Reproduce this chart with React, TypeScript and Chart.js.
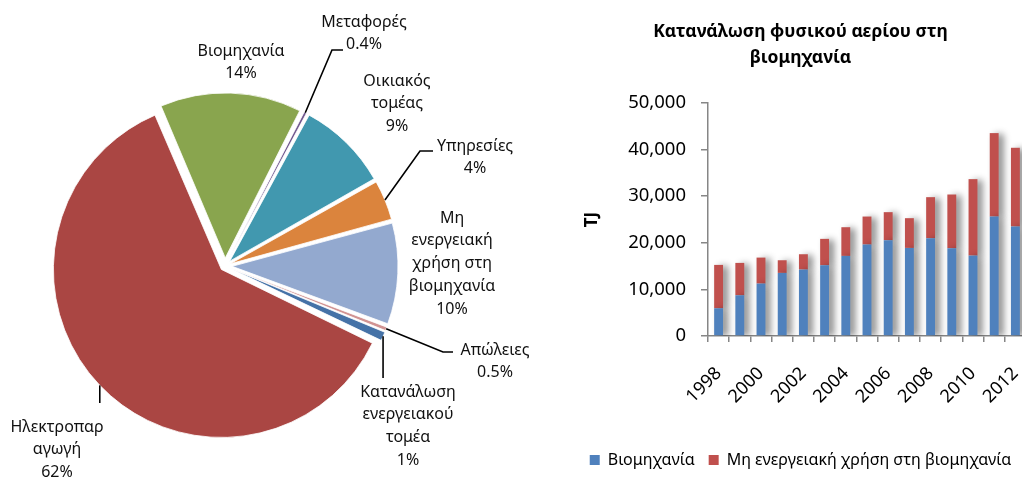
import React, { useEffect, useRef } from 'react';
import { Chart, registerables } from 'chart.js';

Chart.register(...registerables);

const FONT = '"Noto Sans", "DejaVu Sans", sans-serif';

// ---------- Pie data ----------
const pieCategories = [
  'Κατανάλωση ενεργειακού τομέα',
  'Ηλεκτροπαραγωγή',
  'Βιομηχανία',
  'Μεταφορές',
  'Οικιακός τομέας',
  'Υπηρεσίες',
  'Μη ενεργειακή χρήση στη βιομηχανία',
  'Απώλειες',
];
const pieValues = [1, 62, 14, 0.4, 9, 4, 10, 0.5];
const piePercentLabels = ['1%', '62%', '14%', '0.4%', '9%', '4%', '10%', '0.5%'];
const pieLabelLines = [
  ['Κατανάλωση', 'ενεργειακού', 'τομέα'],
  ['Ηλεκτροπαρ', 'αγωγή'],
  ['Βιομηχανία'],
  ['Μεταφορές'],
  ['Οικιακός', 'τομέας'],
  ['Υπηρεσίες'],
  ['Μη', 'ενεργειακή', 'χρήση στη', 'βιομηχανία'],
  ['Απώλειες'],
];
const pieColors = ['#4572A7', '#AA4643', '#89A54E', '#71588F', '#4198AF', '#DB843D', '#93A9CF', '#D19392'];

// ---------- Bar data ----------
const years = ['1998', '1999', '2000', '2001', '2002', '2003', '2004', '2005', '2006', '2007', '2008', '2009', '2010', '2011', '2012'];
const industry = [5950, 8740, 11250, 13540, 14260, 15190, 17190, 19630, 20560, 18910, 20990, 18840, 17260, 25640, 23500];
const nonEnergyUse = [9310, 6950, 5580, 2720, 3290, 5660, 6160, 6010, 6020, 6380, 8810, 11530, 16410, 17910, 16900];
const seriesNames = ['Βιομηχανία', 'Μη ενεργειακή χρήση στη βιομηχανία'];
const barTitle = ['Κατανάλωση φυσικού αερίου στη', 'βιομηχανία'];
const yAxisTitle = 'TJ';

const EXPLODE = 10; // px that each slice is pulled out
const pieTotal = pieValues.reduce((a, b) => a + b, 0);

// label layout for pie (relative to pie centre, px)
const pieLabelLayout: any[] = [
  { x: 183, y: 126, leader: { v: 112 } },
  { x: -168, y: 161, leader: { v: 137 } },
  { x: 16, y: -215 },
  { x: 139, y: -244, leader: { pts: [[107, -216], [118, -216]] } },
  { x: 172, y: -185 },
  { x: 250, y: -120, leader: { pts: [[195, -115], [208, -115]] } },
  { x: 227, y: -48 },
  { x: 270, y: 84, leader: { pts: [[218, 86], [228, 86]] } },
];

const pieLabelPlugin = {
  id: 'pieLabels',
  afterDraw(chart: any) {
    const ctx = chart.ctx;
    const meta = chart.getDatasetMeta(0);
    ctx.save();
    meta.data.forEach((arc: any, i: number) => {
      const p = arc.getProps(['x', 'y', 'startAngle', 'endAngle', 'outerRadius'], true);
      const mid = (p.startAngle + p.endAngle) / 2;
      const ax = p.x + Math.cos(mid) * (p.outerRadius + EXPLODE);
      const ay = p.y + Math.sin(mid) * (p.outerRadius + EXPLODE);
      const lay = pieLabelLayout[i];
      if (lay.leader) {
        ctx.beginPath();
        ctx.strokeStyle = '#000';
        ctx.lineWidth = 1.6;
        ctx.moveTo(ax, ay);
        if (lay.leader.v !== undefined) {
          ctx.lineTo(ax, p.y + lay.leader.v);
        } else {
          lay.leader.pts.forEach((pt: number[]) => ctx.lineTo(p.x + pt[0], p.y + pt[1]));
        }
        ctx.stroke();
      }
      const lines = [...pieLabelLines[i], piePercentLabels[i]];
      ctx.font = `16px ${FONT}`;
      ctx.fillStyle = '#111';
      ctx.textAlign = 'center';
      ctx.textBaseline = 'middle';
      lines.forEach((t, k) => {
        ctx.fillText(t, p.x + lay.x, p.y + lay.y + k * 22.8);
      });
    });
    ctx.restore();
  },
};

const barShadowPlugin = {
  id: 'barShadow',
  beforeDatasetsDraw(chart: any) {
    const ctx = chart.ctx;
    ctx.save();
    ctx.shadowColor = 'rgba(0,0,0,0.45)';
    ctx.shadowBlur = 7;
    ctx.shadowOffsetX = 5;
    ctx.shadowOffsetY = 1;
  },
  afterDatasetsDraw(chart: any) {
    chart.ctx.restore();
  },
};

export default function App() {
  const pieRef = useRef<HTMLCanvasElement>(null);
  const barRef = useRef<HTMLCanvasElement>(null);

  useEffect(() => {
    const pie = new Chart(pieRef.current as HTMLCanvasElement, {
      type: 'pie',
      data: {
        labels: pieCategories,
        datasets: [
          {
            data: pieValues,
            backgroundColor: pieColors,
            borderColor: '#ffffff',
            borderWidth: 0.8,
            // Chart.js translates an arc by offset/4 * (2 - sin(circumference)); invert so every slice moves EXPLODE px
            offset: (c: any) => {
              const circ = (pieValues[c.dataIndex] / pieTotal) * Math.PI * 2;
              return (4 * EXPLODE) / (2 - Math.sin(Math.min(Math.PI, circ)));
            },
          },
        ],
      },
      options: {
        responsive: false,
        animation: false,
        rotation: 112.2,
        radius: 163,
        layout: { padding: { left: 0, right: 125, top: 52, bottom: 0 } },
        plugins: { legend: { display: false }, tooltip: { enabled: false } },
      },
      plugins: [pieLabelPlugin],
    } as any);

    const bar = new Chart(barRef.current as HTMLCanvasElement, {
      type: 'bar',
      data: {
        labels: years,
        datasets: [
          { label: seriesNames[0], data: industry, backgroundColor: '#4F81BD', barPercentage: 0.42, categoryPercentage: 1 },
          { label: seriesNames[1], data: nonEnergyUse, backgroundColor: '#C0504D', barPercentage: 0.42, categoryPercentage: 1 },
        ],
      },
      options: {
        responsive: false,
        animation: false,
        layout: { padding: { left: 0, right: 4, top: 0, bottom: 2 } },
        plugins: {
          tooltip: { enabled: false },
          title: {
            display: true,
            text: barTitle,
            color: '#000',
            font: { family: FONT, size: 17.5, weight: 'bold', lineHeight: 1.43 },
            padding: { top: 20, bottom: 33 },
          },
          legend: {
            position: 'bottom',
            labels: {
              color: '#000',
              font: { family: FONT, size: 16 },
              boxWidth: 10,
              boxHeight: 10,
              padding: 14,
            },
          },
        },
        scales: {
          x: {
            stacked: true,
            afterFit: (s: any) => { s.height = 102; s.paddingRight = 0; },
            grid: { drawOnChartArea: false, drawTicks: true, tickLength: 6, color: '#868686', lineWidth: 1.5 },
            border: { color: '#868686', width: 1.5 },
            ticks: {
              autoSkip: false,
              maxRotation: 45,
              minRotation: 45,
              padding: 21,
              color: '#000',
              font: { family: FONT, size: 18 },
              callback: (_v: any, i: number) => (i % 2 === 0 ? years[i] : ''),
            },
          },
          y: {
            stacked: true,
            min: 0,
            max: 50000,
            afterFit: (s: any) => { s.width = 133; },
            grid: { drawOnChartArea: false, drawTicks: true, tickLength: 7, color: '#868686', lineWidth: 1.5 },
            border: { color: '#868686', width: 1.5 },
            ticks: {
              stepSize: 10000,
              padding: 15,
              color: '#000',
              font: { family: FONT, size: 18.5 },
              callback: (v: any) => Number(v).toLocaleString('en-US'),
            },
            title: {
              display: true,
              text: yAxisTitle,
              color: '#000',
              font: { family: FONT, size: 17, weight: 'bold' },
              padding: { top: 7, bottom: 0 },
            },
          },
        },
      },
      plugins: [barShadowPlugin],
    } as any);

    return () => {
      pie.destroy();
      bar.destroy();
    };
  }, []);

  return (
    <div style={{ position: 'fixed', left: 0, top: 0, width: 1022, height: 480, overflow: 'hidden', background: '#fff' }}>
      <canvas ref={pieRef} width={575} height={480} style={{ position: 'absolute', left: 0, top: 0, width: 575, height: 480 }} />
      <canvas ref={barRef} width={455} height={480} style={{ position: 'absolute', left: 575, top: 0, width: 455, height: 480 }} />
    </div>
  );
}
